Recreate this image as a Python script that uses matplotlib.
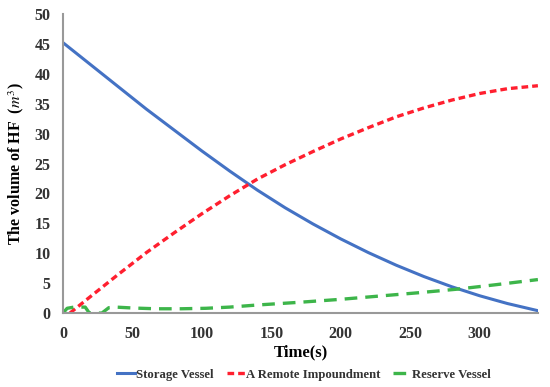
import matplotlib
matplotlib.use("Agg")
import matplotlib.pyplot as plt

# Data
t_storage = [0, 20, 40, 60, 80, 100, 120, 140, 160, 180, 200, 220, 240, 260, 280, 300, 320, 342]
v_storage = [45.2, 41.5, 37.8, 34.1, 30.6, 27.1, 23.75, 20.55, 17.6, 14.9, 12.4, 10.1, 8.0, 6.1, 4.4, 2.9, 1.6, 0.4]

t_remote = [5, 20, 40, 60, 80, 100, 120, 140, 160, 180, 200, 220, 240, 260, 280, 300, 320, 342]
v_remote = [0, 2.8, 6.5, 10.1, 13.4, 16.6, 19.6, 22.4, 24.8, 27.0, 29.1, 31.0, 32.8, 34.3, 35.6, 36.7, 37.5, 38.0]

t_reserve = [0, 3, 8, 16, 19, 28, 33, 38, 50, 67, 85, 103, 120, 140, 170, 200, 228, 256, 284, 312, 342]
v_reserve = [0, 0.8, 1.0, 1.0, 0, 0, 0.9, 1.0, 0.85, 0.72, 0.72, 0.8, 1.0, 1.35, 1.8, 2.3, 2.85, 3.4, 4.0, 4.75, 5.6]

labels = ["Storage Vessel", "A Remote Impoundment", "Reserve Vessel"]
xticks = [0, 50, 100, 150, 200, 250, 300]
yticks = [0, 5, 10, 15, 20, 25, 30, 35, 40, 45, 50]

plt.rcParams['font.family'] = ['Liberation Serif', 'DejaVu Serif']
plt.rcParams['mathtext.fontset'] = 'stix'

fig = plt.figure(figsize=(5.5, 3.87), dpi=100)
ax = fig.add_axes([0.1145, 0.191, 0.8635, 0.773])

ax.plot(t_storage, v_storage, color='#4472C4', lw=2.2, label=labels[0])
ax.plot(t_remote, v_remote, color='#FF1F2F', lw=2.4, dashes=(2.0, 1.2), label=labels[1])
ax.plot(t_reserve, v_reserve, color='#3DB54A', lw=2.4, dashes=(3.8, 2.4), label=labels[2])

ax.set_xlim(0, 342)
ax.set_ylim(0, 50)
ax.set_xticks(xticks)
ax.set_yticks(yticks)
ax.tick_params(axis='y', length=0, labelsize=11.5, pad=9)
ax.tick_params(axis='x', length=0, labelsize=11.5, pad=9)
for lab in ax.get_xticklabels() + ax.get_yticklabels():
    lab.set_fontweight('bold')
    lab.set_color('#333333')

for s in ['top', 'right']:
    ax.spines[s].set_visible(False)
for s in ['left', 'bottom']:
    ax.spines[s].set_color('#999999')
    ax.spines[s].set_linewidth(1.5)

ax.set_xlabel("Time(s)", fontsize=12, fontweight='bold', labelpad=2)
ax.set_ylabel(r"The volume of HF  ($m^3$)", fontsize=11.5, fontweight='bold', labelpad=6)

leg = fig.legend(handles=ax.get_lines(), labels=labels, loc='center', bbox_to_anchor=(0.553, 0.032),
                 ncol=3, frameon=False,
                 prop={'weight': 'bold', 'size': 9.2}, handlelength=1.4, handletextpad=0.1,
                 columnspacing=1.0)
for txt in leg.get_texts():
    txt.set_color('#333333')

fig.savefig("out.png", dpi=100)
